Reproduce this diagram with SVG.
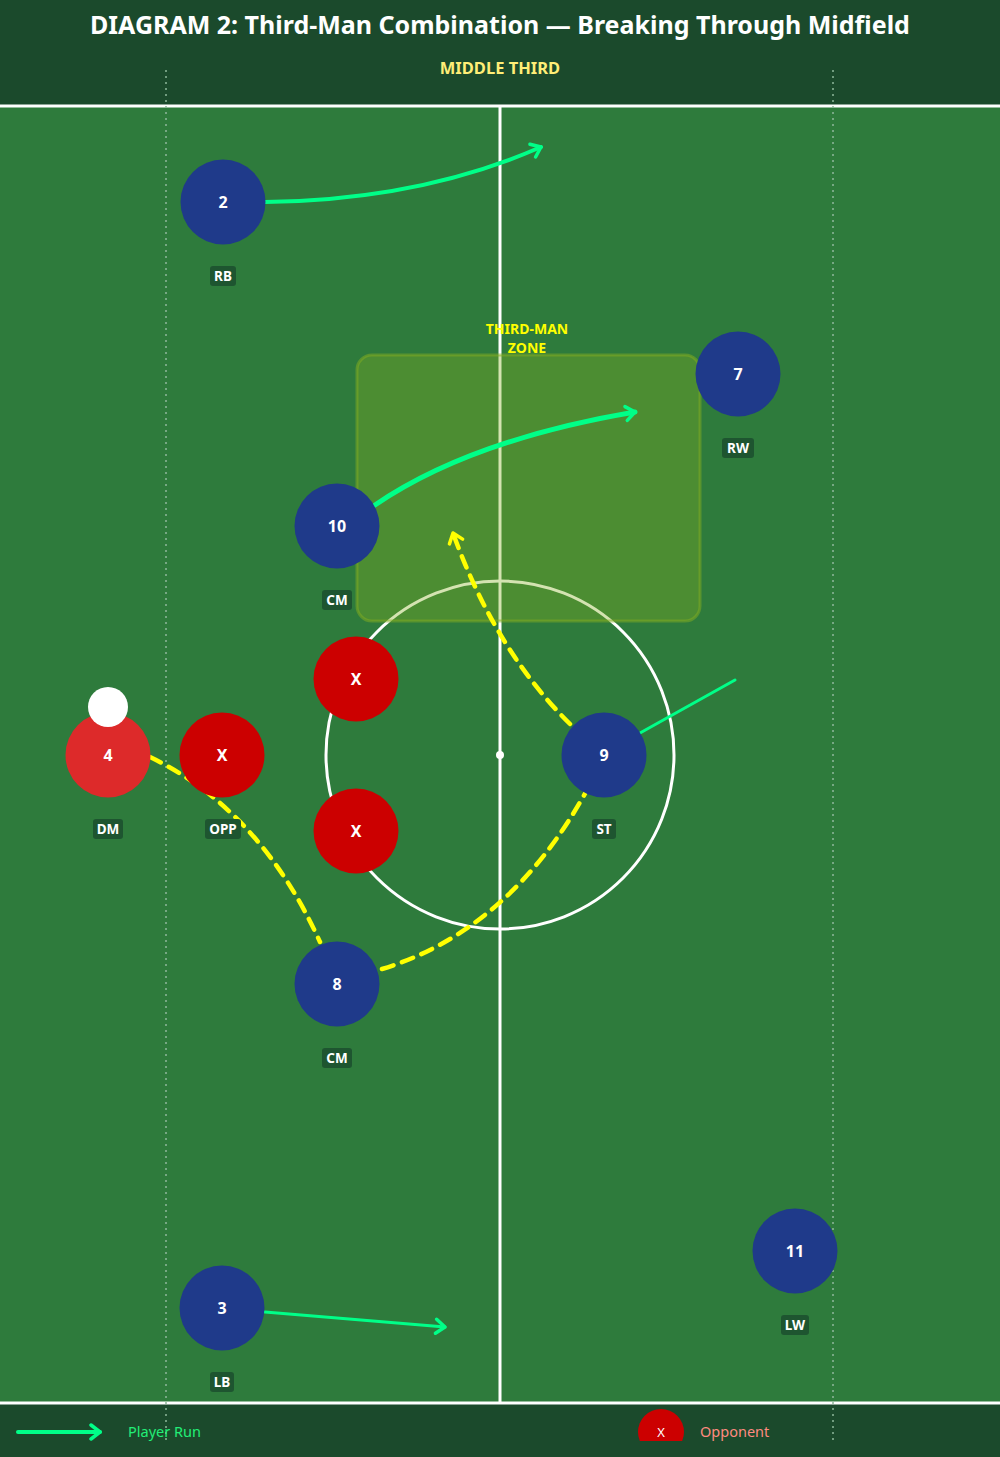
<svg xmlns="http://www.w3.org/2000/svg" width="1000" height="1457" viewBox="0 0 1000 1457">
<style>
text{font-family:"Noto Sans","Open Sans","DejaVu Sans",sans-serif;}
.num{fill:#fff;font-size:16px;font-weight:bold;text-anchor:middle;}
.pos{fill:#fff;font-size:13.5px;font-weight:bold;text-anchor:middle;}
.tag{fill:#1e5530;}
.blue{fill:#1f3a8a;}
.opp{fill:#cc0000;}
.run{fill:none;stroke:#00ff88;stroke-linecap:round;}
.pass{fill:none;stroke:#ffff00;stroke-width:4.5;stroke-dasharray:12 9;stroke-linecap:round;}
.line{stroke:#fff;stroke-width:3;fill:none;}
.dot{stroke:#8fb89a;stroke-width:1.5;stroke-dasharray:2 4;}
.zt{fill:#ffff00;font-size:14px;font-weight:bold;text-anchor:middle;}
</style>
<defs>
<marker id="ag" markerUnits="userSpaceOnUse" markerWidth="20" markerHeight="20" refX="12" refY="10" orient="auto" viewBox="0 0 20 20">
<polyline points="3,3 12,10 3,17" fill="none" stroke="#00ff88" stroke-width="3.5" stroke-linecap="round" stroke-linejoin="round"/>
</marker>
<marker id="ay" markerUnits="userSpaceOnUse" markerWidth="20" markerHeight="20" refX="12" refY="10" orient="auto" viewBox="0 0 20 20">
<polyline points="3,3 12,10 3,17" fill="none" stroke="#ffff00" stroke-width="3.5" stroke-linecap="round" stroke-linejoin="round"/>
</marker>
<clipPath id="clip"><rect x="0" y="0" width="1000" height="1441"/></clipPath>
</defs>
<rect x="0" y="0" width="1000" height="1457" fill="#1b4a2c"/>
<g id="pitch">
<rect x="0" y="106" width="1000" height="1297" fill="#2e7b3c"/>
<line class="line" x1="0" y1="106" x2="1000" y2="106"/>
<line class="line" x1="0" y1="1403" x2="1000" y2="1403"/>
<line class="line" x1="500" y1="106" x2="500" y2="1403"/>
<circle class="line" cx="500" cy="755" r="174"/>
<circle cx="500" cy="755" r="4" fill="#fff"/>
</g>
<g id="dotted" clip-path="url(#clip)">
<line class="dot" x1="166" y1="70" x2="166" y2="1441"/>
<line class="dot" x1="833" y1="70" x2="833" y2="1441"/>
</g>
<g id="header">
<text x="500" y="34" fill="#fff" font-size="25" font-weight="bold" text-anchor="middle">DIAGRAM 2: Third-Man Combination — Breaking Through Midfield</text>
<text x="500" y="74" fill="#ffee77" font-size="16.5" font-weight="bold" text-anchor="middle">MIDDLE THIRD</text>
</g>
<g id="zone">
<rect x="357" y="355" width="343" height="266" rx="15" fill="#84ae1f" fill-opacity="0.35" stroke="#84ae1f" stroke-opacity="0.5" stroke-width="3"/>
<text class="zt" x="527" y="334">THIRD-MAN</text>
<text class="zt" x="527" y="353">ZONE</text>
</g>
<g id="connectors">
<path class="run" stroke-width="4" d="M265,202 Q420,200 541,147" marker-end="url(#ag)"/>
<path class="run" stroke-width="5" stroke="#1fff70" d="M375,505 Q470,440 635,412" marker-end="url(#ag)"/>
<line class="run" stroke-width="3" x1="640" y1="733" x2="735" y2="680"/>
<line class="run" stroke-width="3" x1="265" y1="1312" x2="445" y2="1327" marker-end="url(#ag)"/>
<path class="pass" d="M150,757 Q260,810 320,942"/>
<path class="pass" d="M382,969 Q510,930 587,790"/>
<path class="pass" d="M570,724 Q495,650 453,533" marker-end="url(#ay)"/>
</g>
<g id="p2"><circle class="blue" cx="223" cy="202" r="42.5"/><text class="num" x="223" y="207.5">2</text><rect class="tag" x="210" y="266" width="26" height="20" rx="3"/><text class="pos" x="223" y="281">RB</text></g>
<g id="p7"><circle class="blue" cx="738" cy="374" r="42.5"/><text class="num" x="738" y="379.5">7</text><rect class="tag" x="722" y="438" width="32" height="20" rx="3"/><text class="pos" x="738" y="453">RW</text></g>
<g id="p10"><circle class="blue" cx="337" cy="526" r="42.5"/><text class="num" x="337" y="531.5">10</text><rect class="tag" x="322" y="590" width="30" height="20" rx="3"/><text class="pos" x="337" y="605">CM</text></g>
<g id="p4"><circle fill="#dd2a2a" cx="108" cy="755" r="42.5"/><text class="num" x="108" y="760.5">4</text><rect class="tag" x="93" y="819" width="30" height="20" rx="3"/><text class="pos" x="108" y="834">DM</text></g>
<g id="ball"><circle fill="#fff" cx="108" cy="707" r="20"/></g>
<g id="opp1"><circle class="opp" cx="222" cy="755" r="42.5"/><text class="num" x="222" y="760.5">X</text><rect class="tag" x="205" y="819" width="36" height="20" rx="3"/><text class="pos" x="223" y="834">OPP</text></g>
<g id="opp2"><circle class="opp" cx="356" cy="679" r="42.5"/><text class="num" x="356" y="684.5">X</text></g>
<g id="opp3"><circle class="opp" cx="356" cy="831" r="42.5"/><text class="num" x="356" y="836.5">X</text></g>
<g id="p9"><circle class="blue" cx="604" cy="755" r="42.5"/><text class="num" x="604" y="760.5">9</text><rect class="tag" x="592" y="819" width="24" height="20" rx="3"/><text class="pos" x="604" y="834">ST</text></g>
<g id="p8"><circle class="blue" cx="337" cy="984" r="42.5"/><text class="num" x="337" y="989.5">8</text><rect class="tag" x="322" y="1048" width="30" height="20" rx="3"/><text class="pos" x="337" y="1063">CM</text></g>
<g id="p11"><circle class="blue" cx="795" cy="1251" r="42.5"/><text class="num" x="795" y="1256.5">11</text><rect class="tag" x="781" y="1315" width="28" height="20" rx="3"/><text class="pos" x="795" y="1330">LW</text></g>
<g id="p3"><circle class="blue" cx="222" cy="1308" r="42.5"/><text class="num" x="222" y="1313.5">3</text><rect class="tag" x="210" y="1372" width="24" height="20" rx="3"/><text class="pos" x="222" y="1387">LB</text></g>
<g id="legend" clip-path="url(#clip)">
<line class="run" stroke-width="4" x1="18" y1="1432" x2="100" y2="1432" marker-end="url(#ag)"/>
<text x="128" y="1437" fill="#22ee77" font-size="14.5">Player Run</text>
<circle class="opp" cx="661" cy="1432" r="23"/>
<text x="661" y="1437" fill="#fff" font-size="13" text-anchor="middle">X</text>
<text x="700" y="1437" fill="#ff8a80" font-size="14.5">Opponent</text>
</g>
</svg>
